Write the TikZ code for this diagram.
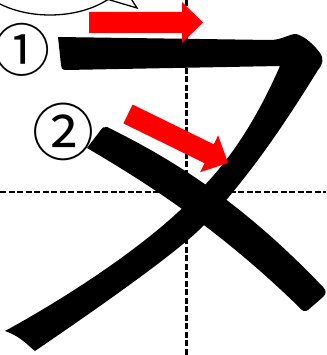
\documentclass[tikz,border=0pt]{standalone}
\usepackage{fontspec}
\newfontfamily\cjkfont{Noto Sans CJK JP}
\usetikzlibrary{calc}
\tikzset{
  guide/.style={line width=2.5pt, dash pattern=on 6pt off 2.5pt, draw=black},
  kana/.style={fill=black},
  strokearrow/.style={fill=red},
  circnum/.style={inner sep=0pt, text=black},
  bubble/.style={draw=black, line width=1.3pt},
}
\newcommand\myredarrow[2]{%
  \coordinate (#1base) at ($(#2)!21pt!(#1)$);
  \fill[strokearrow] ($(#1)!10.5pt!90:(#2)$) -- ($(#1base)!10.5pt!90:(#2)$)
    -- ($(#1base)!20.5pt!90:(#2)$) -- (#2)
    -- ($(#1base)!20.5pt!-90:(#2)$) -- ($(#1base)!10.5pt!-90:(#2)$)
    -- ($(#1)!10.5pt!-90:(#2)$) -- cycle;
}
\begin{document}
\begin{tikzpicture}[x=1pt,y=-1pt]
\useasboundingbox (0,0) rectangle (326,355);
\begin{scope}
\clip (0,0) rectangle (326,355);
% guide lines
\coordinate (vtop) at (186.5,0);
\coordinate (vbot) at (186.5,355);
\coordinate (hleft) at (0,192);
\coordinate (hright) at (326,192);
\draw[guide] (vtop) -- (vbot);
\draw[guide] (hleft) -- (hright);
% stroke 1
\fill[kana] (58,37) -- (270,40) .. controls (282,40) and (289,34) .. (296,34)
  .. controls (305,36) and (315,46) .. (320,53) .. controls (324,59) and (323,64) .. (318,70)
  .. controls (290,115) and (255,170) .. (205,224)
  .. controls (180,251) and (95,310) .. (35,351)
  .. controls (28,346) and (22,337) .. (5,331)
  .. controls (80,290) and (160,235) .. (200,190)
  .. controls (240,150) and (265,100) .. (280,66)
  -- (66,70) .. controls (62,70) and (61,68) .. (61,65) -- cycle;
% stroke 2
\fill[kana] (87,148) -- (100,131) .. controls (102,128) and (104,126) .. (107,127)
  .. controls (170,158) and (240,200) .. (323,287)
  .. controls (327,291) and (326,294) .. (323,297) -- (308,310)
  .. controls (305,312) and (302,311) .. (300,308)
  .. controls (220,230) and (150,185) .. (87,148) -- cycle;
% arrows
\coordinate (aone) at (89,22.5);
\coordinate (aonetip) at (203,22.5);
\coordinate (atwo) at (128,114);
\coordinate (atwotip) at (228,163);
\myredarrow{aone}{aonetip}
\myredarrow{atwo}{atwotip}
% speech bubble
\draw[bubble] (50,-35) ellipse [x radius=80pt, y radius=50pt];
\coordinate (tailA) at (93,-5);
\coordinate (tailtip) at (137,8);
\coordinate (tailB) at (128,-6);
\draw[bubble, line join=miter] (tailA) -- (tailtip) -- (tailB);
\end{scope}
% circled numbers
\node[circnum, font=\cjkfont\fontsize{57}{57}\selectfont] (n1) at (22.5,50) {①};
\node[circnum, font=\cjkfont\fontsize{62}{62}\selectfont] (n2) at (63,132) {②};
\end{tikzpicture}
\end{document}
